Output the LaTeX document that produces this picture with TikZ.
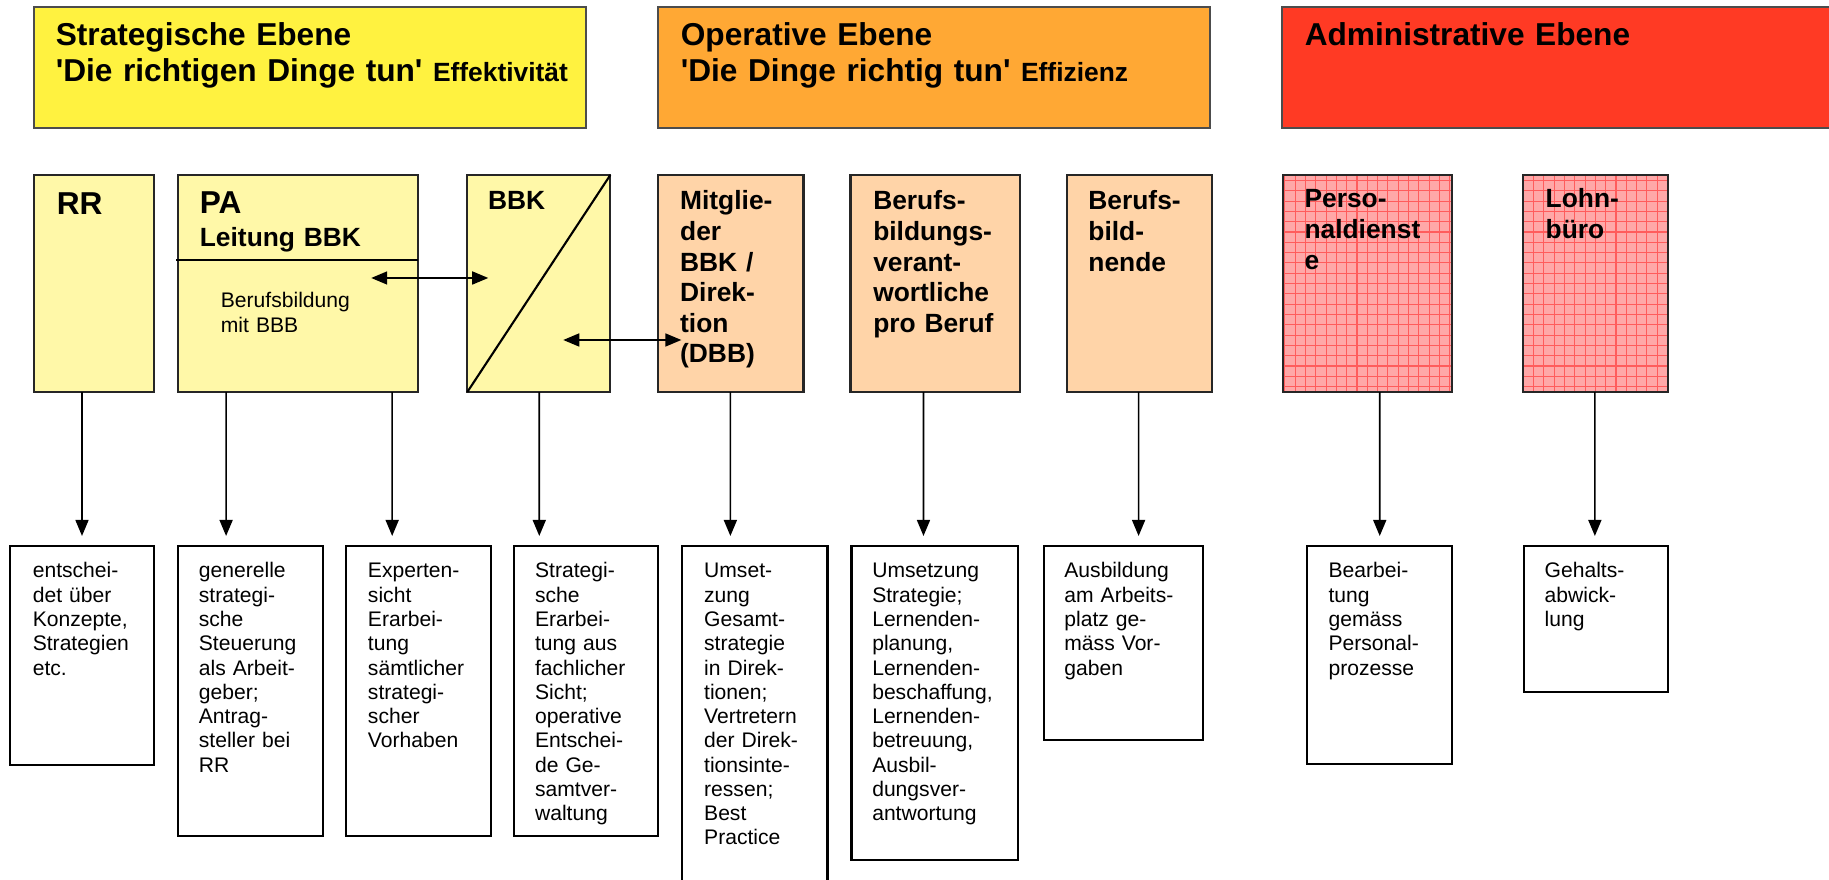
\documentclass[tikz,border=0pt]{standalone}
\usepackage{fontspec}
\setmainfont{Liberation Sans}
\usetikzlibrary{arrows.meta, positioning, calc}

\definecolor{strat}{RGB}{255,242,64}
\definecolor{oper}{RGB}{255,168,52}
\definecolor{admin}{RGB}{255,58,36}
\definecolor{stratlight}{RGB}{255,248,168}
\definecolor{operlight}{RGB}{255,212,168}
\definecolor{adminlight}{RGB}{255,168,168}
\definecolor{admingrid}{RGB}{255,92,92}

\tikzset{
  ebene/.style={draw=black!70, line width=0.6pt, minimum height=1.21cm, anchor=north west, inner sep=0pt, outer sep=0pt},
  unit/.style={draw=black!85, line width=0.6pt, minimum height=2.17cm, inner sep=0pt, outer sep=0pt},
  task/.style={draw=black, line width=0.6pt, inner sep=0pt, outer sep=0pt},
  ebenetext/.style={font=\fontsize{9}{10.24}\selectfont\bfseries, text width=6cm, align=left, inner sep=0pt, anchor=base west},
  unittext/.style={font=\fontsize{7.5}{8.7}\selectfont\bfseries, text width=2cm, align=left, inner sep=0pt, anchor=base west},
  tasktext/.style={font=\fontsize{6}{6.9}\selectfont, text width=2cm, align=left, inner sep=0pt, anchor=base west},
  gitter/.style={path picture={\draw[admingrid, line width=0.3pt, step=0.103cm] (path picture bounding box.south west) grid (path picture bounding box.north east);}},
}

\begin{document}
\begin{tikzpicture}[x=0.01cm, y=-0.01cm, >={Triangle[length=0.16cm,width=0.13cm]}, line width=0.45pt]
\path[use as bounding box, fill=white] (0,0) rectangle (1829,880);

% Define the nodes
\node[ebene, fill=strat, minimum width=5.52cm] (strat) at (34,7) {};
\node[ebene, fill=oper, minimum width=5.52cm] (oper) at (658,7) {};
\node[ebene, fill=admin, minimum width=5.60cm] (admin) at (1282,7) {};
\node[ebenetext] (strat-t) at ($(strat.north west)+(21,39)$) {Strategische Ebene\\\textquotesingle Die richtigen Dinge tun\textquotesingle{} {\fontsize{7.5}{9}\selectfont Effektivität}};
\node[ebenetext] (oper-t) at ($(oper.north west)+(22,39)$) {Operative Ebene\\\textquotesingle Die Dinge richtig tun\textquotesingle{} {\fontsize{7.5}{9}\selectfont Effizienz}};
\node[ebenetext] (admin-t) at ($(admin.north west)+(22,39)$) {Administrative Ebene};

\node[unit, fill=stratlight, minimum width=1.20cm, anchor=north west] (rr) at (34,175) {};
\node[unit, fill=stratlight, minimum width=2.40cm, right=0.24cm of rr] (pa) {};
\node[unit, fill=stratlight, minimum width=1.43cm, right=0.49cm of pa] (bbk) {};
\node[unit, fill=operlight, minimum width=1.45cm, right=0.48cm of bbk] (mit) {};
\node[unit, fill=operlight, minimum width=1.69cm, right=0.47cm of mit] (bverant) {};
\node[unit, fill=operlight, minimum width=1.45cm, right=0.47cm of bverant] (bbildner) {};
\node[unit, fill=adminlight, gitter, minimum width=1.69cm, right=0.71cm of bbildner] (perso) {};
\node[unit, fill=adminlight, gitter, minimum width=1.45cm, right=0.71cm of perso] (lohn) {};

\node[unittext, font=\fontsize{9}{10}\selectfont\bfseries] (rr-t) at ($(rr.north west)+(22,40)$) {RR};
\node[unittext, font=\fontsize{9}{10}\selectfont\bfseries] (pa-t) at ($(pa.north west)+(21,39)$) {PA};
\node[unittext, text width=2.2cm] (pa-sub) at ($(pa.north west)+(21,72)$) {Leitung BBK};
\node[tasktext] (pa-bb) at ($(pa.north west)+(42,133)$) {Berufsbildung\\mit BBB};
\node[unittext] (bbk-t) at ($(bbk.north west)+(20,35)$) {BBK};
\node[unittext] (mit-t) at ($(mit.north west)+(21,35)$) {Mitglie-\\der\\BBK /\\Direk-\\tion\\(DBB)};
\node[unittext] (bverant-t) at ($(bverant.north west)+(22,35)$) {Berufs-\\bildungs-\\verant-\\wortliche\\pro Beruf};
\node[unittext] (bbildner-t) at ($(bbildner.north west)+(21,35)$) {Berufs-\\bild-\\nende};
\node[unittext] (perso-t) at ($(perso.north west)+(21,33)$) {Perso-\\naldienst\\e};
\node[unittext] (lohn-t) at ($(lohn.north west)+(22,33)$) {Lohn-\\büro};

\node[task, minimum width=1.44cm, minimum height=2.19cm, anchor=north west] (entscheid) at (10,546) {};
\node[task, minimum width=1.45cm, minimum height=2.90cm, right=0.24cm of entscheid.north east, anchor=north west] (steuerung) {};
\node[task, minimum width=1.45cm, minimum height=2.90cm, right=0.23cm of steuerung.north east, anchor=north west] (expertise) {};
\node[task, minimum width=1.44cm, minimum height=2.90cm, right=0.23cm of expertise.north east, anchor=north west] (erarbeitung) {};
\node[task, minimum width=1.45cm, minimum height=3.47cm, right=0.24cm of erarbeitung.north east, anchor=north west] (umsetzung) {};
\node[task, minimum width=1.66cm, minimum height=3.14cm, right=0.24cm of umsetzung.north east, anchor=north west] (lernende) {};
\node[task, minimum width=1.59cm, minimum height=1.94cm, right=0.26cm of lernende.north east, anchor=north west] (ausbildung) {};
\node[task, minimum width=1.45cm, minimum height=2.18cm, right=1.04cm of ausbildung.north east, anchor=north west] (bearbeitung) {};
\node[task, minimum width=1.44cm, minimum height=1.46cm, right=0.72cm of bearbeitung.north east, anchor=north west] (gehalt) {};

\node[tasktext] (entscheid-t) at ($(entscheid.north west)+(22,32)$) {entschei-\\det über\\Konzepte,\\Strategien\\etc.};
\node[tasktext] (steuerung-t) at ($(steuerung.north west)+(20,32)$) {generelle\\strategi-\\sche\\Steuerung\\als Arbeit-\\geber;\\Antrag-\\steller bei\\RR};
\node[tasktext] (expertise-t) at ($(expertise.north west)+(21,32)$) {Experten-\\sicht\\Erarbei-\\tung\\sämtlicher\\strategi-\\scher\\Vorhaben};
\node[tasktext] (erarbeitung-t) at ($(erarbeitung.north west)+(20,32)$) {Strategi-\\sche\\Erarbei-\\tung aus\\fachlicher\\Sicht;\\operative\\Entschei-\\de Ge-\\samtver-\\waltung};
\node[tasktext] (umsetzung-t) at ($(umsetzung.north west)+(21,32)$) {Umset-\\zung\\Gesamt-\\strategie\\in Direk-\\tionen;\\Vertretern\\der Direk-\\tionsinte-\\ressen;\\Best\\Practice};
\node[tasktext] (lernende-t) at ($(lernende.north west)+(20,32)$) {Umsetzung\\Strategie;\\Lernenden-\\planung,\\Lernenden-\\beschaffung,\\Lernenden-\\betreuung,\\Ausbil-\\dungsver-\\antwortung};
\node[tasktext] (ausbildung-t) at ($(ausbildung.north west)+(20,32)$) {Ausbildung\\am Arbeits-\\platz ge-\\mäss Vor-\\gaben};
\node[tasktext] (bearbeitung-t) at ($(bearbeitung.north west)+(21,32)$) {Bearbei-\\tung\\gemäss\\Personal-\\prozesse};
\node[tasktext] (gehalt-t) at ($(gehalt.north west)+(20,32)$) {Gehalts-\\abwick-\\lung};

% Draw the edges
\draw[line width=0.6pt] ($(pa.north west)+(-2,85)$) -- ($(pa.north east)+(0,85)$);
\draw[line width=0.6pt] (bbk.south west) -- (bbk.north east);
\draw[<->] ($(pa.north east)+(-47,103)$) -- ($(bbk.north west)+(21,103)$);
\draw[<->] ($(bbk.north west)+(96,165)$) -- ($(mit.north west)+(23,165)$);

\draw[->, shorten >=0.10cm] ($(rr.south west)+(48,0)$) -- ($(entscheid.north west)+(72,0)$);
\draw[->, shorten >=0.10cm] ($(pa.south west)+(48,0)$) -- ($(steuerung.north west)+(48,0)$);
\draw[->, shorten >=0.10cm] ($(pa.south west)+(214,0)$) -- ($(expertise.north west)+(46,0)$);
\draw[->, shorten >=0.10cm] ($(bbk.south west)+(72,0)$) -- ($(erarbeitung.north west)+(25,0)$);
\draw[->, shorten >=0.10cm] ($(mit.south west)+(72,0)$) -- ($(umsetzung.north west)+(48,0)$);
\draw[->, shorten >=0.10cm] ($(bverant.south west)+(73,0)$) -- ($(lernende.north west)+(72,0)$);
\draw[->, shorten >=0.10cm] ($(bbildner.south west)+(72,0)$) -- ($(ausbildung.north west)+(95,0)$);
\draw[->, shorten >=0.10cm] ($(perso.south west)+(97,0)$) -- ($(bearbeitung.north west)+(73,0)$);
\draw[->, shorten >=0.10cm] ($(lohn.south west)+(72,0)$) -- ($(gehalt.north west)+(71,0)$);
\end{tikzpicture}
\end{document}
